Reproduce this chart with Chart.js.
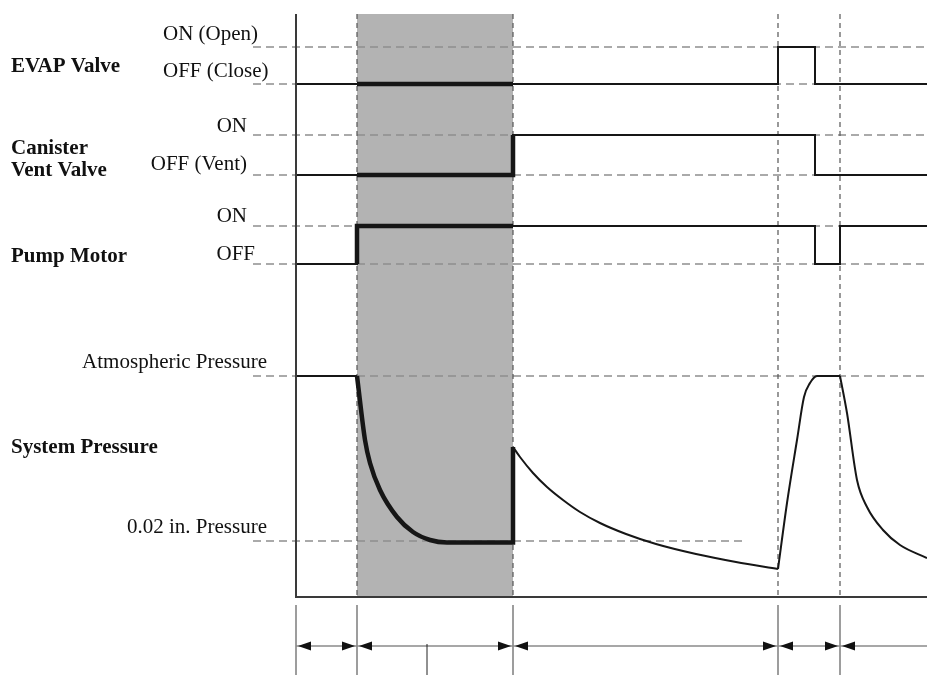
<!DOCTYPE html>
<html>
<head>
<meta charset="utf-8">
<title>EVAP leak check – timing chart</title>
<script src="https://cdn.jsdelivr.net/npm/chart.js@4.4.1/dist/chart.umd.min.js"></script>
<style>
  html, body { margin: 0; padding: 0; background: #fff; }
  #wrap { position: relative; width: 927px; height: 675px; }
</style>
</head>
<body>
<div id="wrap"><canvas id="timing"></canvas></div>
<script>
(function () {
  "use strict";

  // --- Dados ------------------------------------------------------------------
  // Tempo em unidades arbitrárias (0 = início do teste). Níveis no eixo y são
  // "trilhas" do diagrama: cada sinal tem um nível ON e um nível OFF.
  var T_END = 63.1;
  var phaseEdges = [0, 6.1, 21.7, 48.2, 54.4];   // limites das fases (régua de baixo)
  var testWindow = [6.1, 21.7];                   // fase sombreada
  var rulerMark = 13.1;                           // traço curto na régua

  var signalNames = ["EVAP Valve", "Canister", "Vent Valve", "Pump Motor", "System Pressure"];
  var levelNames = ["ON (Open)", "OFF (Close)", "ON", "OFF (Vent)", "ON", "OFF",
                    "Atmospheric Pressure", "0.02 in. Pressure"];
  var levelValues = [62.8, 59.1, 54.0, 50.0, 44.9, 41.1, 29.9, 13.4];

  // Sinais liga/desliga: [instante, nível a partir desse instante]
  var evapValve = [[0, 59.1], [48.2, 62.8], [51.9, 59.1], [63.1, 59.1]];
  var ventValve = [[0, 50.0], [21.7, 54.0], [51.9, 50.0], [63.1, 50.0]];
  var pumpMotor = [[0, 41.1], [6.1, 44.9], [51.9, 41.1], [54.4, 44.9], [63.1, 44.9]];

  // Pressão do sistema, lida trecho a trecho
  var pressureIdle = [[0, 29.9], [6.1, 29.9]];
  var pressureEvac = [[6.1, 29.9], [6.9, 23.5], [7.4, 21.2], [8.4, 18.5], [10.1, 15.8],
                      [11.7, 14.3], [13.4, 13.5], [15.1, 13.25], [21.7, 13.25], [21.7, 22.8]];
  var pressureDecay = [[21.7, 22.8], [22.4, 21.8], [23.7, 20.2], [25.1, 18.8], [26.7, 17.5],
                       [28.4, 16.3], [30.4, 15.2], [33.0, 14.1], [36.0, 13.1], [40.0, 12.1],
                       [44.0, 11.3], [48.2, 10.6]];
  var pressureVent = [[48.2, 10.6], [49.1, 17.2], [50.1, 23.5], [50.8, 27.8], [51.4, 29.2],
                      [52.1, 29.9], [54.4, 29.9]];
  var pressureRecheck = [[54.4, 29.9], [55.1, 26.2], [56.1, 19.5], [57.1, 16.8], [58.7, 14.5],
                         [60.4, 13.0], [63.1, 11.7]];

  // --- Helpers ------------------------------------------------------------------
  function pts(list) { return list.map(function (p) { return { x: p[0], y: p[1] }; }); }

  // windowPart recorta um sinal em degraus para o intervalo [t0, t1],
  // incluindo as transições que caem nas bordas (desenhadas em traço grosso).
  function windowPart(steps, t0, t1) {
    var level = steps[0][1], out = [];
    steps.forEach(function (p) { if (p[0] < t0) level = p[1]; });
    out.push({ x: t0, y: level });
    steps.forEach(function (p) { if (p[0] >= t0 && p[0] <= t1) out.push({ x: p[0], y: p[1] }); });
    if (out[out.length - 1].x < t1) out.push({ x: t1, y: out[out.length - 1].y });
    return out;
  }

  var INK = "#161616";
  function stepSet(data, w) {
    return { data: data, stepped: true, borderColor: INK, borderWidth: w, pointRadius: 0,
             fill: false, borderJoinStyle: "miter", borderCapStyle: "butt" };
  }
  function curveSet(data, w) {
    return { data: pts(data), cubicInterpolationMode: "monotone", borderColor: INK, borderWidth: w,
             pointRadius: 0, fill: false, borderJoinStyle: "miter" };
  }

  var THIN = 2, THICK = 4.5;
  var datasets = [
    stepSet(windowPart(evapValve, testWindow[0], testWindow[1]), THICK),
    stepSet(windowPart(ventValve, testWindow[0], testWindow[1]), THICK),
    stepSet(windowPart(pumpMotor, testWindow[0], testWindow[1]), THICK),
    curveSet(pressureEvac, THICK),
    stepSet(pts(evapValve), THIN),
    stepSet(pts(ventValve), THIN),
    stepSet(pts(pumpMotor), THIN),
    curveSet(pressureIdle, THIN),
    curveSet(pressureDecay, THIN),
    curveSet(pressureVent, THIN),
    curveSet(pressureRecheck, THIN),
  ];

  // --- Decoração: faixa, guias tracejadas, eixos, régua e textos ---------------
  var AXIS_TOP = 66.1, AXIS_BOTTOM = 7.8;
  var GUIDE_START = -4.3, LOW_GUIDE_END = 44.8;
  var RULER_TOP = 7.0, RULER_Y = 2.9;

  function line(ctx, x0, y0, x1, y1) { ctx.beginPath(); ctx.moveTo(x0, y0); ctx.lineTo(x1, y1); ctx.stroke(); }

  function arrow(ctx, tipX, y, dir) {
    var len = 13, half = 4.5;
    ctx.beginPath();
    ctx.moveTo(tipX, y);
    ctx.lineTo(tipX - dir * len, y - half);
    ctx.lineTo(tipX - dir * len, y + half);
    ctx.closePath();
    ctx.fill();
  }

  var decor = {
    id: "timingDecor",
    beforeDatasetsDraw: function (chart) {
      var ctx = chart.ctx, sx = chart.scales.x, sy = chart.scales.y;
      var X = function (v) { return sx.getPixelForValue(v); };
      var Y = function (v) { return sy.getPixelForValue(v); };
      ctx.save();
      // fase sombreada
      ctx.fillStyle = "#b3b3b3";
      ctx.fillRect(X(testWindow[0]), Y(AXIS_TOP), X(testWindow[1]) - X(testWindow[0]), Y(AXIS_BOTTOM) - Y(AXIS_TOP));
      // guias horizontais
      ctx.strokeStyle = "#8e8e8e"; ctx.lineWidth = 1.6; ctx.setLineDash([8, 5]);
      levelValues.forEach(function (v, i) {
        var end = i === levelValues.length - 1 ? LOW_GUIDE_END : T_END;
        line(ctx, X(GUIDE_START), Y(v), X(end), Y(v));
      });
      // guias verticais nas transições
      ctx.strokeStyle = "#555"; ctx.lineWidth = 1.2; ctx.setLineDash([5, 4]);
      phaseEdges.slice(1).forEach(function (t) { line(ctx, X(t), Y(AXIS_TOP), X(t), Y(AXIS_BOTTOM)); });
      ctx.restore();
    },
    afterDatasetsDraw: function (chart) {
      var ctx = chart.ctx, sx = chart.scales.x, sy = chart.scales.y;
      var X = function (v) { return sx.getPixelForValue(v); };
      var Y = function (v) { return sy.getPixelForValue(v); };
      ctx.save();
      // eixos
      ctx.strokeStyle = "#3a3a3a"; ctx.lineWidth = 2; ctx.setLineDash([]);
      line(ctx, X(0), Y(AXIS_TOP), X(0), Y(AXIS_BOTTOM) + 1);
      line(ctx, X(0), Y(AXIS_BOTTOM), X(T_END), Y(AXIS_BOTTOM));
      // régua de fases
      ctx.strokeStyle = "#7d7d7d"; ctx.lineWidth = 1.5;
      phaseEdges.forEach(function (t) { line(ctx, X(t), Y(RULER_TOP), X(t), Y(0)); });
      ctx.strokeStyle = "#8a8a8a";
      line(ctx, X(0), Y(RULER_Y), X(T_END), Y(RULER_Y));
      ctx.fillStyle = "#111";
      phaseEdges.forEach(function (t, i) {
        if (i > 0) arrow(ctx, X(t) - 2, Y(RULER_Y), 1);
        arrow(ctx, X(t) + 2, Y(RULER_Y), -1);
      });
      ctx.strokeStyle = "#222"; ctx.lineWidth = 1;
      line(ctx, X(rulerMark), Y(RULER_Y) - 2, X(rulerMark), Y(0));

      // textos
      ctx.fillStyle = "#111";
      ctx.textBaseline = "alphabetic";
      ctx.font = "bold 21px 'Liberation Serif', 'Times New Roman', serif";
      ctx.textAlign = "left";
      var nameAt = [72, 154, 176, 262, 453];
      signalNames.forEach(function (s, i) { ctx.fillText(s, 11, nameAt[i]); });

      ctx.font = "21px 'Liberation Serif', 'Times New Roman', serif";
      var stateLayout = [
        ["left", 163, 40], ["left", 163, 77],
        ["right", 247, 132], ["right", 247, 170],
        ["right", 247, 222], ["right", 255, 260],
        ["right", 267, 368], ["right", 267, 533],
      ];
      levelNames.forEach(function (s, i) {
        var l = stateLayout[i];
        ctx.textAlign = l[0];
        ctx.fillText(s, l[1], l[2]);
      });
      ctx.restore();
    },
  };

  new Chart(document.getElementById("timing"), {
    type: "line",
    data: { datasets: datasets },
    options: {
      responsive: true,
      maintainAspectRatio: false,
      animation: false,
      events: [],
      layout: { padding: 0 },
      plugins: { legend: { display: false }, tooltip: { enabled: false } },
      scales: {
        x: { type: "linear", min: -29.6, max: T_END, display: false },
        y: { type: "linear", min: 0, max: 67.5, display: false },
      },
    },
    plugins: [decor],
  });
})();
</script>
</body>
</html>
